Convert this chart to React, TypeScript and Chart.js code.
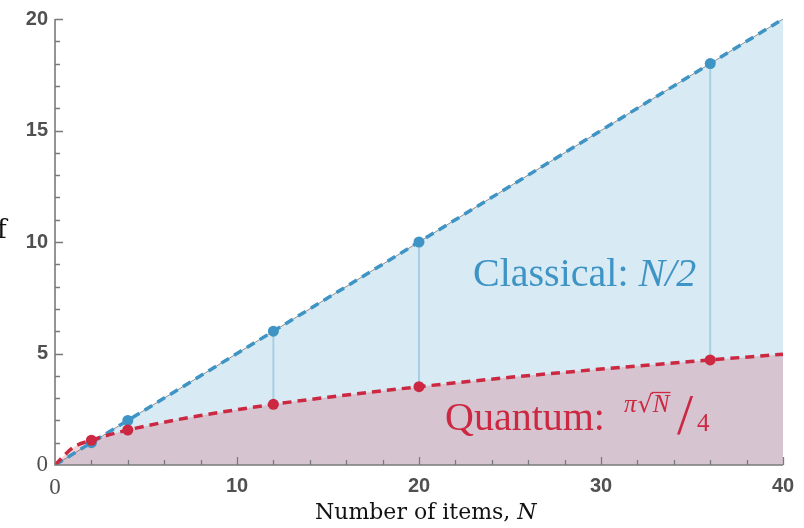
import { useEffect, useRef } from "react";
import { Chart, registerables } from "chart.js";

Chart.register(...registerables);

// ---- data ----
const curveN = [0, 1, 2, 3, 4, 6, 8, 10, 12, 15, 20, 25, 30, 36, 40];
const classicalCurve = [0, 0.5, 1, 1.5, 2, 3, 4, 5, 6, 7.5, 10, 12.5, 15, 18, 20];
const quantumCurve = [0, 0.79, 1.11, 1.36, 1.57, 1.92, 2.22, 2.48, 2.72, 3.04, 3.51, 3.93, 4.3, 4.71, 4.97];
const sampleN = [2, 4, 12, 20, 36];
const classicalSamples = [1, 2, 6, 10, 18];
const quantumSamples = [1.11, 1.57, 2.72, 3.51, 4.71];
const xTickValues = [0, 10, 20, 30, 40];
const yTickValues = [0, 5, 10, 15, 20];
const xMinorStep = 2;
const yMinorStep = 1;

const BLUE = "rgb(62,148,197)";
const RED = "rgb(204,40,66)";
const AXIS = "#7a7a7a";
const TICK_TEXT = "#505050";

function seg(ctx: CanvasRenderingContext2D, text: string, x: number, y: number, font: string, color: string) {
  ctx.font = font;
  ctx.fillStyle = color;
  ctx.fillText(text, x, y);
  return x + ctx.measureText(text).width;
}

const decorPlugin = {
  id: "decor",
  afterDatasetsDraw(chart: any) {
    const { ctx, chartArea, scales } = chart;
    const { left, right, top, bottom } = chartArea;
    const xs = scales.x;
    const ys = scales.y;
    ctx.save();
    ctx.strokeStyle = AXIS;
    ctx.lineWidth = 1.6;
    ctx.beginPath();
    ctx.moveTo(left, top);
    ctx.lineTo(left, bottom);
    ctx.lineTo(right, bottom);
    ctx.stroke();
    ctx.lineWidth = 1.3;
    ctx.beginPath();
    for (let v = yMinorStep; v <= ys.max + 1e-9; v += yMinorStep) {
      const py = Math.round(ys.getPixelForValue(v)) + 0.5;
      const len = yTickValues.includes(v) ? 8 : 5;
      ctx.moveTo(left, py);
      ctx.lineTo(left + len, py);
    }
    for (let v = xMinorStep; v <= xs.max + 1e-9; v += xMinorStep) {
      const px = Math.round(xs.getPixelForValue(v)) + 0.5;
      const len = xTickValues.includes(v) ? 8 : 5;
      ctx.moveTo(px, bottom);
      ctx.lineTo(px, bottom - len);
    }
    ctx.stroke();
    ctx.restore();
  },
  afterDraw(chart: any) {
    const { ctx } = chart;
    ctx.save();
    ctx.textBaseline = "alphabetic";
    ctx.textAlign = "left";
    // Classical label
    const cx = seg(ctx, "Classical: ", 473, 286, '40px "Liberation Serif"', BLUE);
    seg(ctx, "N/2", cx, 286, 'italic 40px "Liberation Serif"', BLUE);
    // Quantum label
    seg(ctx, "Quantum:", 445, 430, '40px "Liberation Serif"', RED);
    let qx = seg(ctx, "π", 624, 412, 'italic 25px "Liberation Serif"', RED);
    qx = seg(ctx, "√", qx + 1, 412, '24px "DejaVu Serif"', RED);
    const nStart = qx;
    qx = seg(ctx, "N", qx, 412, 'italic 25px "Liberation Serif"', RED);
    ctx.strokeStyle = RED;
    ctx.lineWidth = 1.3;
    ctx.beginPath();
    ctx.moveTo(nStart - 1, 392.5);
    ctx.lineTo(qx + 1, 392.5);
    ctx.stroke();
    seg(ctx, "/", 677, 434, '58px "Liberation Serif"', RED);
    seg(ctx, "4", 697, 431, '25px "Liberation Serif"', RED);
    // axis title
    const tx = seg(ctx, "Number of items, ", 315, 519, '22px "DejaVu Serif"', "#111");
    seg(ctx, "N", tx, 519, 'italic 22px "DejaVu Serif"', "#111");
    // clipped y-axis title remnant
    seg(ctx, "f", -3, 238, '26px "DejaVu Serif"', "#111");
    ctx.restore();
  },
};

export default function App() {
  const ref = useRef<HTMLCanvasElement | null>(null);
  useEffect(() => {
    if (!ref.current) return;
    const classicalLine = curveN.map((n, i) => ({ x: n, y: classicalCurve[i] }));
    const quantumLine = curveN.map((n, i) => ({ x: n, y: quantumCurve[i] }));
    const drops: any[] = [];
    sampleN.forEach((n, i) => {
      drops.push({ x: n, y: classicalSamples[i] });
      drops.push({ x: n, y: quantumSamples[i] });
      drops.push({ x: n, y: null });
    });
    const tickFont = (c: any) =>
      c.tick && c.tick.value === 0
        ? { family: '"Liberation Serif"', size: 23, weight: "normal" }
        : { family: '"Liberation Sans"', size: 20, weight: "bold" };
    const chart = new Chart(ref.current, {
      type: "line",
      data: {
        datasets: [
          {
            data: drops,
            borderColor: "rgba(62,148,197,0.32)",
            borderWidth: 2,
            pointRadius: 0,
            spanGaps: false,
            fill: false,
            order: 10,
          },
          {
            data: classicalLine,
            borderColor: "rgba(110,110,110,0.75)",
            borderWidth: 1,
            pointRadius: 0,
            fill: false,
            order: 9,
          },
          {
            data: classicalLine,
            borderColor: BLUE,
            borderWidth: 3.5,
            borderDash: [9, 6],
            pointRadius: 0,
            fill: "origin",
            backgroundColor: "rgba(62,148,197,0.2)",
            order: 8,
          },
          {
            data: quantumLine,
            borderColor: RED,
            borderWidth: 3.5,
            borderDash: [9, 6],
            pointRadius: 0,
            cubicInterpolationMode: "monotone",
            fill: "origin",
            backgroundColor: "rgba(204,40,66,0.2)",
            order: 7,
          },
          {
            data: sampleN.map((n, i) => ({ x: n, y: classicalSamples[i] })),
            showLine: false,
            pointRadius: 5.5,
            pointBackgroundColor: BLUE,
            pointBorderWidth: 0,
            borderColor: BLUE,
            order: 6,
          },
          {
            data: sampleN.map((n, i) => ({ x: n, y: quantumSamples[i] })),
            showLine: false,
            pointRadius: 5.5,
            pointBackgroundColor: RED,
            pointBorderWidth: 0,
            borderColor: RED,
            order: 5,
          },
        ] as any,
      },
      options: {
        animation: false,
        responsive: false,
        layout: { padding: { top: 15, right: 21, left: 0, bottom: 0 } },
        plugins: {
          legend: { display: false },
          tooltip: { enabled: false },
          filler: { drawTime: "beforeDatasetsDraw" } as any,
        },
        scales: {
          x: {
            type: "linear",
            min: 0,
            max: 40,
            grid: { display: false, drawTicks: false },
            border: { display: false },
            afterBuildTicks: (s: any) => {
              s.ticks = xTickValues.map((v) => ({ value: v }));
            },
            afterFit: (s: any) => {
              s.height = 63;
            },
            ticks: { padding: 9, color: TICK_TEXT, font: tickFont as any, maxRotation: 0 },
          },
          y: {
            type: "linear",
            min: 0,
            max: 20,
            grid: { display: false, drawTicks: false },
            border: { display: false },
            afterBuildTicks: (s: any) => {
              s.ticks = yTickValues.map((v) => ({ value: v }));
            },
            afterFit: (s: any) => {
              s.width = 55;
            },
            ticks: { padding: 7, color: TICK_TEXT, font: tickFont as any },
          },
        },
      },
      plugins: [decorPlugin],
    });
    return () => chart.destroy();
  }, []);
  return (
    <div style={{ position: "absolute", left: 0, top: 0, width: 804, height: 528 }}>
      <canvas ref={ref} width={804} height={528} style={{ display: "block", width: 804, height: 528 }} />
    </div>
  );
}
